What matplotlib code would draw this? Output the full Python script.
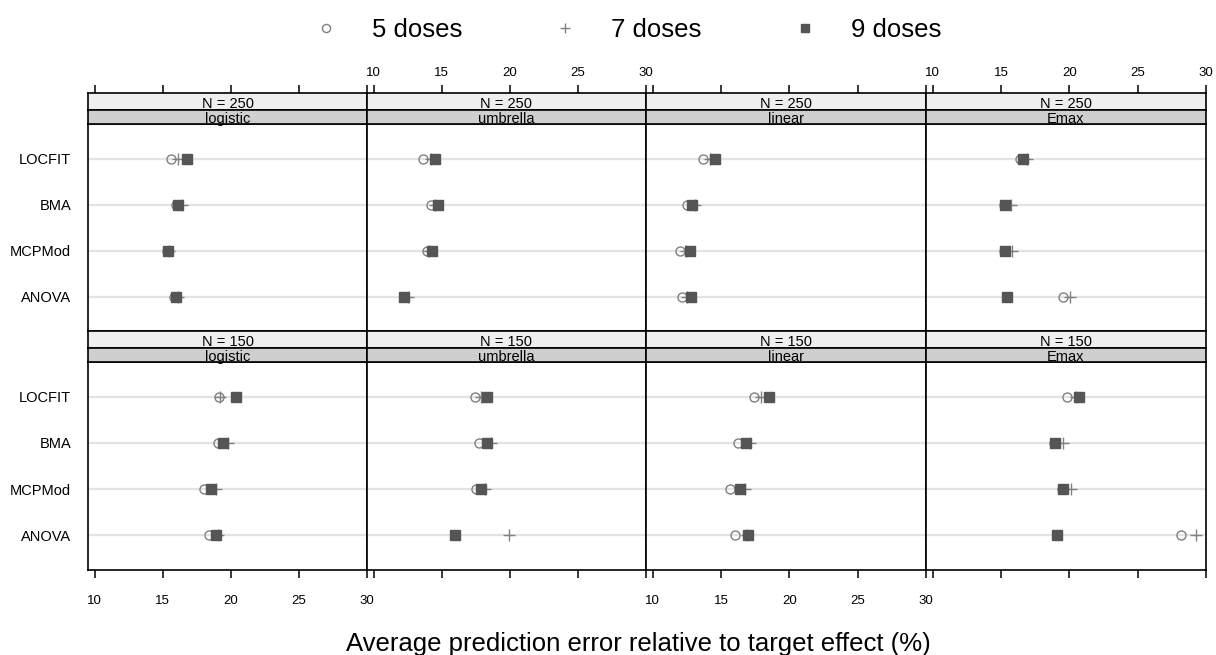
""" Average prediction error by method, dose design, model and sample size """
import matplotlib
matplotlib.use("Agg")
from matplotlib import pyplot as plt

plt.rcParams['font.family'] = ['Liberation Sans', 'DejaVu Sans']

methods = ["LOCFIT", "BMA", "MCPMod", "ANOVA"]
models = ["logistic", "umbrella", "linear", "Emax"]
sizes = ["N = 250", "N = 150"]
dose_labels = ["5 doses", "7 doses", "9 doses"]
xticks = [10, 15, 20, 25, 30]

# one list per model (logistic, umbrella, linear, Emax), values in methods order
n250_5 = [[15.6, 16.0, 15.3, 15.85], [13.65, 14.2, 13.9, 12.2],
          [13.7, 12.5, 12.0, 12.15], [16.4, 15.2, 15.2, 19.5]]
n250_7 = [[16.1, 16.4, 15.45, 16.1], [14.2, 14.5, 14.05, 12.5],
          [14.2, 13.1, 12.4, 12.5], [16.9, 15.75, 15.8, 20.05]]
n250_9 = [[16.75, 16.1, 15.37, 15.93], [14.5, 14.75, 14.28, 12.25],
          [14.55, 12.9, 12.7, 12.8], [16.6, 15.3, 15.3, 15.45]]

n150_5 = [[19.15, 19.05, 18.0, 18.4], [17.4, 17.7, 17.5, 15.95],
          [17.4, 16.2, 15.65, 16.05], [19.8, 18.85, 19.45, 28.15]]
n150_7 = [[19.2, 19.75, 18.9, 19.05], [17.9, 18.6, 18.2, 19.95],
          [17.95, 17.15, 16.75, 16.9], [20.5, 19.55, 20.1, 29.3]]
n150_9 = [[20.35, 19.4, 18.55, 18.9], [18.35, 18.35, 17.85, 15.97],
          [18.5, 16.85, 16.35, 16.95], [20.7, 18.92, 19.55, 19.12]]

W, H = 1216, 655
fig = plt.figure(figsize=(W / 100, H / 100), dpi=100)


def box(x0, y0, x1, y1):
    # pixel box (top-left origin) -> figure fraction
    return [x0 / W, 1 - y1 / H, (x1 - x0) / W, (y1 - y0) / H]


cols = [88, 367, 646, 926, 1206]
# (N strip top, model strip top, data top, data bottom)
rows = [(93, 110, 124, 331), (331, 348, 362, 570)]
data = [(n250_5, n250_7, n250_9), (n150_5, n150_7, n150_9)]

styles = [dict(marker='o', mfc='none', mec='#808080', ms=6.5, mew=1.0),
          dict(marker='+', mec='#808080', ms=8, mew=1.0),
          dict(marker='s', mfc='#555555', mec='#555555', ms=6.5, mew=1.0)]

ypos = [4, 3, 2, 1]
xlim = (9.5, 30.0)
handles = []

for r, (ys, ym, yd, yb) in enumerate(rows):
    for c in range(4):
        x0, x1 = cols[c], cols[c + 1]
        ax = fig.add_axes(box(x0, yd, x1, yb))
        for i in range(len(methods)):
            ax.axhline(ypos[i], color='#e3e3e3', lw=1.6, zorder=0)
        for k, series in enumerate(data[r]):
            h, = ax.plot(series[c], ypos, ls='none', zorder=2 + k, **styles[k])
            if r == 0 and c == 0:
                handles.append(h)
        ax.set_xlim(*xlim)
        ax.set_ylim(0.25, 4.75)
        ax.set_yticks(ypos)
        if c == 0:
            ax.set_yticklabels(methods, fontsize=10.5)
            ax.tick_params(axis='y', length=0, pad=12)
        else:
            ax.set_yticklabels([])
            ax.tick_params(axis='y', length=0)
        ax.set_xticks(xticks)
        if r == 1:
            ax.tick_params(axis='x', direction='out', length=6, width=1.1, pad=12,
                           labelsize=9.5)
            if c % 2 == 1:
                ax.set_xticklabels([])
        else:
            ax.tick_params(axis='x', length=0, labelbottom=False)
        for s in ax.spines.values():
            s.set_linewidth(1.2)

        # strips
        for (t0, t1, txt, col) in [(ys, ym, sizes[r], '#efefef'),
                                   (ym, yd, models[c], '#cfcfcf')]:
            sax = fig.add_axes(box(x0, t0, x1, t1))
            sax.set_facecolor(col)
            sax.set_xlim(*xlim)
            sax.set_yticks([])
            sax.text(0.5, 0.1, txt, transform=sax.transAxes, ha='center',
                     va='baseline', fontsize=10.5)
            for s in sax.spines.values():
                s.set_linewidth(1.2)
            if r == 0 and t0 == ys:
                sax.set_xticks(xticks)
                sax.xaxis.set_ticks_position('top')
                sax.tick_params(axis='x', direction='out', length=6, width=1.1,
                                pad=4, labelsize=9.5, labeltop=(c % 2 == 1),
                                labelbottom=False)
            else:
                sax.set_xticks([])

fig.text(0.525, 1 - 644 / H, "Average prediction error relative to target effect (%)",
         ha='center', va='center', fontsize=18.5)

fig.legend(handles, dose_labels, loc='center', bbox_to_anchor=(0.5157, 1 - 30 / H),
           ncol=3, frameon=False, fontsize=18.5, handlelength=1.0,
           handletextpad=1.3, columnspacing=3.5, markerscale=0.9)

plt.savefig('out.png', dpi=100)
